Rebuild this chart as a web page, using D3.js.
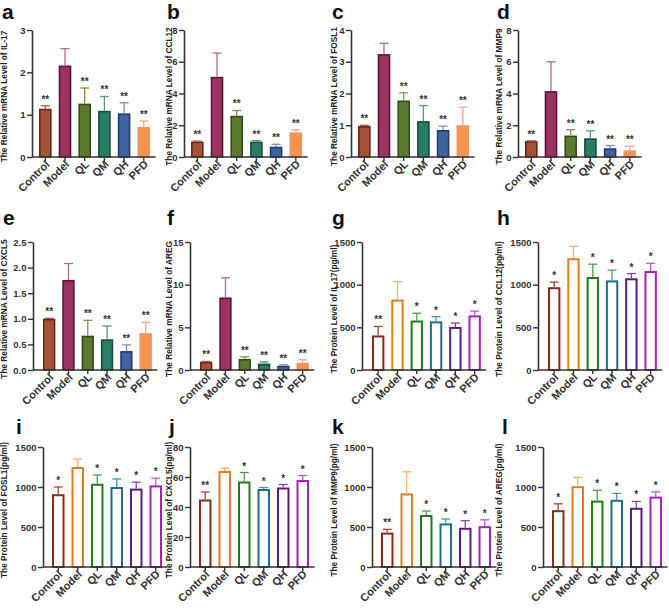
<!DOCTYPE html>
<html>
<head>
<meta charset="utf-8">
<script src="https://cdn.jsdelivr.net/npm/d3@7"></script>
<style>
  body { margin: 0; background: #fff; }
  text { font-family: "Liberation Sans", Arial, sans-serif; }
</style>
</head>
<body>
<svg id="chart" width="669" height="609"></svg>
<script>
// groups on every x axis
const groups = ["Control", "Model", "QL", "QM", "QH", "PFD"]

// mRNA panels a-f
const mrnaGenes = ["IL-17", "CCL12", "FOSL1", "MMP9", "CXCL5", "AREG"]
const mrnaMeans = [
  [1.14, 2.16, 1.26, 1.09, 1.03, 0.71],
  [0.97, 5.05, 2.6, 0.97, 0.65, 1.55],
  [0.98, 3.24, 1.78, 1.13, 0.85, 1.0],
  [1.0, 4.15, 1.35, 1.18, 0.55, 0.42],
  [1.0, 1.76, 0.67, 0.6, 0.37, 0.72],
  [0.96, 8.5, 1.3, 0.75, 0.5, 0.85]
]
const mrnaSD = [
  [0.07, 0.4, 0.37, 0.34, 0.25, 0.14],
  [0.03, 1.5, 0.33, 0.06, 0.15, 0.15],
  [0.02, 0.34, 0.24, 0.49, 0.12, 0.57],
  [0.02, 1.85, 0.37, 0.47, 0.17, 0.26],
  [0.01, 0.32, 0.3, 0.26, 0.12, 0.21],
  [0.04, 2.3, 0.25, 0.2, 0.1, 0.35]
]
const mrnaMax = [3, 8, 4, 8, 2.5, 15]
const mrnaTickStep = [1, 2, 1, 2, 0.5, 5]
const mrnaStars = ["**", "", "**", "**", "**", "**"]

// protein panels g-l
const proteinNames = ["IL-17", "CCL12", "FOSL1", "CXCL5", "MMP9", "AREG"]
const proteinMeans = [
  [405, 825, 580, 570, 505, 640],
  [970, 1310, 1090, 1050, 1075, 1160],
  [910, 1250, 1040, 1000, 980, 1020],
  [45, 64, 57, 52, 53, 58],
  [430, 920, 650, 545, 490, 510],
  [710, 1010, 830, 840, 740, 880]
]
const proteinSD = [
  [105, 210, 85, 55, 45, 50],
  [60, 140, 150, 120, 55, 90],
  [90, 100, 110, 100, 80, 90],
  [5, 2, 6, 1, 2, 3],
  [40, 270, 50, 55, 90, 80],
  [80, 110, 130, 80, 80, 60]
]
const proteinMax = [1500, 1500, 1500, 80, 1500, 1500]
const proteinTickStep = [500, 500, 500, 20, 500, 500]
const proteinStars = [
  ["**", "", "*", "*", "*", "*"],
  ["*", "", "*", "*", "*", "*"],
  ["*", "", "*", "*", "*", "*"],
  ["**", "", "*", "*", "*", "*"],
  ["**", "", "*", "*", "*", "*"],
  ["*", "", "*", "*", "*", "*"]
]

// colours
const fillColors = ["#a4533b", "#9c3462", "#5b7a2c", "#2b7c66", "#3e63a0", "#f7954a"]
const fillStroke = ["#6a2313", "#5e1236", "#33501a", "#164c3e", "#223d6d", "#e9946c"]
const fillErr = ["#a85a48", "#b56a86", "#7c9550", "#5c9585", "#7f8fb4", "#f2a58c"]
const openColors = ["#8c2b15", "#e07d22", "#1f7d20", "#1e6d8a", "#5a1c7c", "#a520b8"]
const openErr = ["#9a4a36", "#f0b46c", "#4e9a4e", "#4f91aa", "#7e4a98", "#bb5ccb"]

const letters = "abcdefghijkl".split("")

// layout
const colX = [0, 165, 330, 495]
const axisX = [[32, 184, 351, 518], [33, 190, 362, 538], [43, 190, 372, 543]]
const rowTop = [30, 242, 447]
const rowZero = [157, 370, 567]
const rowGap = [7, 10, 9]
const rowStep = [19.7, 19.3, 19.5]
const letterY = [19, 225, 434]
const letterDx = [2, 2, 2, 2, 3, 2, 2, 2, 16, 4, 2, 7]

const svg = d3.select("#chart")
svg.append("rect").attr("width", 669).attr("height", 609).attr("fill", "#fff")

function drawPanel(idx, means, sd, stars, ymax, tstep, title, filled) {
  const row = Math.floor(idx / 4), col = idx % 4
  const ax = axisX[row][col]
  const top = rowTop[row], zero = rowZero[row]
  const step = rowStep[row]
  const r0 = ax + rowGap[row] - 0.18 * step

  const x = d3.scaleBand().domain(groups)
    .range([r0, r0 + 6 * step])
    .paddingInner(0.36).paddingOuter(0.18)
  const y = d3.scaleLinear().domain([0, ymax]).range([zero, top])

  const g = svg.append("g")

  // panel letter
  g.append("text")
    .attr("x", colX[col] + letterDx[idx]).attr("y", letterY[row])
    .attr("font-size", 21).attr("font-weight", "bold").attr("fill", "#111")
    .text(letters[idx])

  // y title
  g.append("text")
    .attr("transform", "translate(" + (colX[col] + 7) + "," + ((top + zero) / 2 + 3) + ") rotate(-90)")
    .attr("text-anchor", "middle")
    .attr("font-size", 8.3).attr("font-weight", "bold").attr("fill", "#222")
    .text(title)

  // bars
  const bw = x.bandwidth()
  const data = groups.map((k, i) => ({k, i, m: means[i], e: sd[i], s: stars[i]}))
  const sw = filled ? 1.6 : 2
  g.selectAll(".bar").data(data).enter().append("rect")
    .attr("x", d => x(d.k) + sw / 2)
    .attr("y", d => y(d.m) + sw / 2)
    .attr("width", bw - sw)
    .attr("height", d => Math.max(0, zero - y(d.m) - sw / 2))
    .attr("fill", d => filled ? fillColors[d.i] : "#fff")
    .attr("stroke", d => filled ? fillStroke[d.i] : openColors[d.i])
    .attr("stroke-width", sw)

  // error bars (upper only)
  const errCol = d => filled ? fillErr[d.i] : openErr[d.i]
  g.selectAll(".err").data(data).enter().append("line")
    .attr("x1", d => x(d.k) + bw / 2).attr("x2", d => x(d.k) + bw / 2)
    .attr("y1", d => y(d.m)).attr("y2", d => y(d.m + d.e))
    .attr("stroke", errCol).attr("stroke-width", 1.3)
  g.selectAll(".cap").data(data).enter().append("line")
    .attr("x1", d => x(d.k) + bw / 2 - 4.5).attr("x2", d => x(d.k) + bw / 2 + 4.5)
    .attr("y1", d => y(d.m + d.e)).attr("y2", d => y(d.m + d.e))
    .attr("stroke", errCol).attr("stroke-width", 1.3)

  // significance stars
  g.selectAll(".star").data(data).enter().append("text")
    .attr("x", d => x(d.k) + bw / 2)
    .attr("y", d => y(d.m + d.e) - 3)
    .attr("text-anchor", "middle")
    .attr("font-size", 10).attr("font-weight", "bold").attr("fill", "#333")
    .text(d => d.s)

  // y axis
  const yAxis = d3.axisLeft(y)
    .tickValues(d3.range(0, ymax + tstep / 2, tstep))
    .tickSize(5).tickSizeOuter(0).tickPadding(1.5)
    .tickFormat(tstep < 1 ? d3.format(".1f") : d3.format("d"))
  const ya = g.append("g").attr("transform", "translate(" + ax + ",0)").call(yAxis)
  ya.select(".domain").attr("stroke", "#333").attr("stroke-width", 1.6)
  ya.selectAll(".tick line").attr("stroke", "#333").attr("stroke-width", 1.4)
  ya.selectAll("text").attr("font-size", 9.5).attr("font-weight", "bold").attr("fill", "#333")
    .attr("font-family", "Liberation Sans, Arial, sans-serif")

  // x axis
  const xa = g.append("g").attr("transform", "translate(0," + zero + ")")
    .call(d3.axisBottom(x).tickSize(4).tickSizeOuter(0))
  xa.select(".domain").attr("d", "M" + ax + ",0H" + (r0 + 6 * step + 2))
    .attr("stroke", "#333").attr("stroke-width", 1.6)
  xa.selectAll(".tick line").attr("stroke", "#333").attr("stroke-width", 1.4)
  xa.selectAll("text")
    .attr("font-size", 11).attr("font-weight", "bold").attr("fill", "#333")
    .attr("font-family", "Liberation Sans, Arial, sans-serif")
    .attr("text-anchor", "end")
    .attr("dy", null).attr("y", 0)
    .attr("transform", "translate(5,8) rotate(-45)")
}

mrnaGenes.forEach((gene, i) => {
  drawPanel(i, mrnaMeans[i], mrnaSD[i], mrnaStars,
    mrnaMax[i], mrnaTickStep[i], "The Relative mRNA Level of " + gene, true)
})
proteinNames.forEach((p, i) => {
  drawPanel(i + 6, proteinMeans[i], proteinSD[i], proteinStars[i],
    proteinMax[i], proteinTickStep[i], "The Protein Level of " + p + "(pg/ml)", false)
})
</script>
</body>
</html>
